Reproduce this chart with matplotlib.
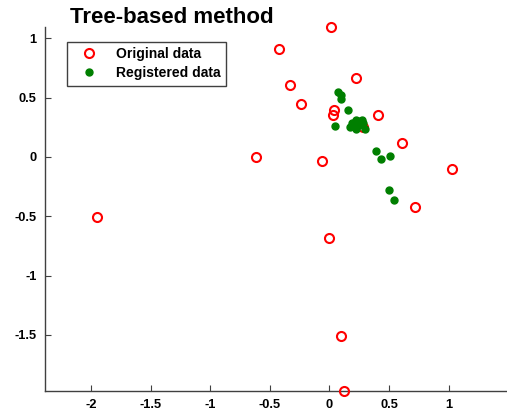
import matplotlib
matplotlib.use("Agg")
import matplotlib.pyplot as plt
from matplotlib.ticker import FormatStrFormatter

plt.rcParams['font.family'] = ['Liberation Sans', 'DejaVu Sans']

# original (red circles)
orig_x = [-1.95, -0.62, -0.425, -0.33, -0.24, 0.01, 0.22, 0.04, 0.03, -0.06,
          0.0, 0.095, 0.12, 0.405, 0.61, 0.72, 1.03, 0.28]
orig_y = [-0.51, 0.0, 0.91, 0.61, 0.45, 1.10, 0.67, 0.40, 0.35, -0.03,
          -0.68, -1.51, -1.97, 0.35, 0.12, -0.42, -0.10, 0.25]

# registered (green dots)
reg_x = [0.07, 0.095, 0.10, 0.155, 0.05, 0.19, 0.22, 0.27, 0.17, 0.22,
         0.25, 0.30, 0.28, 0.39, 0.43, 0.51, 0.50, 0.54, 0.23, 0.26]
reg_y = [0.55, 0.52, 0.49, 0.40, 0.26, 0.29, 0.31, 0.31, 0.25, 0.24,
         0.27, 0.24, 0.29, 0.05, -0.02, 0.01, -0.28, -0.36, 0.28, 0.30]

xticks = [-2, -1.5, -1, -0.5, 0, 0.5, 1]
yticks = [-1.5, -1, -0.5, 0, 0.5, 1]

fig = plt.figure(figsize=(5.07, 4.18), dpi=100)
ax = fig.add_axes([0.0888, 0.0646, 0.9112, 0.8708])

ax.plot(orig_x, orig_y, 'o', mfc='none', mec='#ff0000', mew=1.5, ms=6.5,
        label='Original data', clip_on=False, zorder=3)
ax.plot(reg_x, reg_y, 'o', color='#007f00', ms=5, label='Registered data',
        clip_on=False, zorder=4)

ax.set_xlim(-2.386, 1.49)
ax.set_ylim(-1.973, 1.096)
ax.set_xticks(xticks)
ax.set_yticks(yticks)
ax.xaxis.set_major_formatter(FormatStrFormatter('%g'))
ax.yaxis.set_major_formatter(FormatStrFormatter('%g'))
ax.tick_params(direction='in', length=4, width=0.8, color='#404040',
               labelsize=9.3, pad=6)
for lab in ax.get_xticklabels() + ax.get_yticklabels():
    lab.set_fontweight('bold')

for s in ['top', 'right']:
    ax.spines[s].set_visible(False)
for s in ['left', 'bottom']:
    ax.spines[s].set_color('#404040')
    ax.spines[s].set_linewidth(1.0)

leg = ax.legend(loc='upper left', bbox_to_anchor=(0.048, 0.96), fancybox=False,
                edgecolor='#404040', framealpha=1, borderpad=0.4,
                handletextpad=0.8, labelspacing=0.35, handlelength=2.3,
                borderaxespad=0, prop={'size': 10, 'weight': 'bold'})
leg.get_frame().set_linewidth(1.0)

fig.text(0.138, 0.957, 'Tree-based method', fontsize=16, fontweight='bold',
         ha='left', va='center')

fig.savefig('out.png', dpi=100)
